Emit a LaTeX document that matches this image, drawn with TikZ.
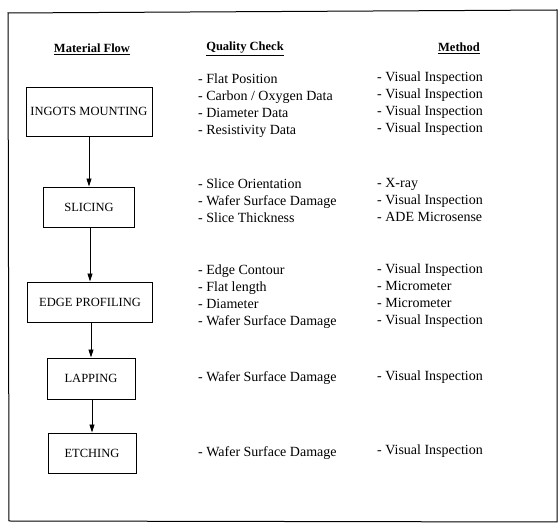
\documentclass[tikz,border=0pt]{standalone}
\usepackage{fontspec}
\setmainfont{Liberation Serif}
\usetikzlibrary{arrows.meta}
\tikzset{
  stepbox/.style={draw, line width=0.9pt, minimum height=40pt, inner sep=0pt, font=\fontsize{12.5}{15}\selectfont},
  hdr/.style={font=\fontsize{12.5}{14}\selectfont\bfseries},
  item/.style={anchor=west, inner sep=0pt, font=\fontsize{14}{17}\selectfont, align=left},
  flow/.style={line width=0.9pt, -{Triangle[length=8pt,width=5pt]}},
}
\begin{document}
\begin{tikzpicture}[x=1pt,y=-1pt]
\useasboundingbox (0,0) rectangle (558,526);
\draw[line width=1pt] (8,13) -- (557,10) -- (557,522) -- (9,521) -- cycle;

\node[hdr] (h1) at (92,49) {\underline{Material Flow}};
\node[hdr] (h2) at (245,49) {\underline{Quality Check}};
\node[hdr] (h3) at (459,48) {\underline{Method}};

\node[stepbox, minimum width=126pt, minimum height=49pt] (s1) at (89,111.5) {INGOTS MOUNTING};
\node[stepbox, minimum width=91pt] (s2) at (89,207) {SLICING};
\node[stepbox, minimum width=125pt] (s3) at (90,302) {EDGE PROFILING};
\node[stepbox, minimum width=88pt, minimum height=41pt] (s4) at (91,378.5) {LAPPING};
\node[stepbox, minimum width=88pt] (s5) at (92,453) {ETCHING};

\draw[flow] (s1.south) -- (s1.south |- s2.north);
\draw[flow] (s2.south -| s3.north) -- (s3.north);
\draw[flow] (s3.south -| s4.north) -- (s4.north);
\draw[flow] (s4.south -| s5.north) -- (s5.north);

\node[item] (q1) at (198,105.5) {- Flat Position\\- Carbon / Oxygen Data\\- Diameter Data\\- Resistivity Data};
\node[item] (m1) at (377,104) {- Visual Inspection\\- Visual Inspection\\- Visual Inspection\\- Visual Inspection};

\node[item] (q2) at (198,201) {- Slice Orientation\\- Wafer Surface Damage\\- Slice Thickness};
\node[item] (m2) at (377,200) {- X-ray\\- Visual Inspection\\- ADE Microsense};

\node[item] (q3) at (198,297) {- Edge Contour\\- Flat length\\- Diameter\\- Wafer Surface Damage};
\node[item] (m3) at (377,296) {- Visual Inspection\\- Micrometer\\- Micrometer\\- Visual Inspection};

\node[item] (q4) at (198,378) {- Wafer Surface Damage};
\node[item] (m4) at (377,377) {- Visual Inspection};

\node[item] (q5) at (198,453) {- Wafer Surface Damage};
\node[item] (m5) at (377,451) {- Visual Inspection};
\end{tikzpicture}
\end{document}
